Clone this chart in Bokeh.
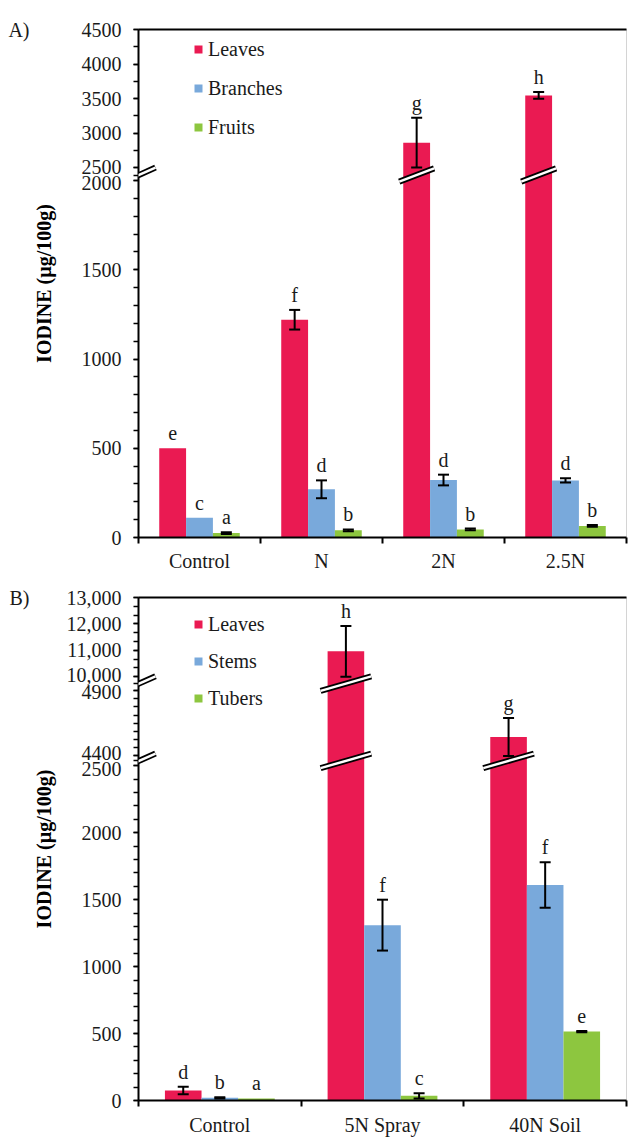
from bokeh.plotting import figure
from bokeh.models import (ColumnDataSource, Range1d, FixedTicker, Whisker, TeeHead,
                          Legend, LegendItem, Arrow, LinearAxis, AllLabels)
from bokeh.layouts import column
from bokeh.embed import file_html
from bokeh.resources import INLINE
from bokeh.core.properties import value

# ---------------- data: panel A ----------------
a_groups = ["Control", "N", "2N", "2.5N"]
a_series = ["Leaves", "Branches", "Fruits"]
a_leaves = [500, 1220, 2860, 3545]
a_leaves_err = [0, 55, 360, 50]
a_branches = [110, 270, 322, 320]
a_branches_err = [0, 50, 30, 12]
a_fruits = [25, 40, 45, 65]
a_fruits_err = [5, 5, 5, 5]
a_leaves_sig = ["e", "f", "g", "h"]
a_branches_sig = ["c", "d", "d", "d"]
a_fruits_sig = ["a", "b", "b", "b"]
a_yticks = [0, 500, 1000, 1500, 2000, 2500, 3000, 3500, 4000, 4500]

# ---------------- data: panel B ----------------
b_groups = ["Control", "5N Spray", "40N Soil"]
b_series = ["Leaves", "Stems", "Tubers"]
b_leaves = [75, 10960, 4545]
b_leaves_err = [28, 960, 145]
b_stems = [20, 1310, 1610]
b_stems_err = [5, 190, 170]
b_tubers = [15, 35, 515]
b_tubers_err = [0, 20, 5]
b_leaves_sig = ["d", "h", "g"]
b_stems_sig = ["b", "f", "f"]
b_tubers_sig = ["a", "c", "e"]
b_yticks = [0, 500, 1000, 1500, 2000, 2500, 4400, 4900, 10000, 11000, 12000, 13000]

COLORS = ["#EA1A52", "#79A9DB", "#8DC63F"]
FONT = "Liberation Serif"
TXT = "#1a1a1a"
FRAME_H = 508
FRAME_W = 488


def make_mapper(segs):
    def f(v):
        for lo, hi, d0, d1 in segs:
            if v <= hi:
                if v < lo:
                    return d0
                return d0 + (v - lo) / (hi - lo) * (d1 - d0)
        return segs[-1][3]
    return f


def fmt(v):
    return f"{v:,}" if v >= 10000 else str(v)


def build_panel(groups, series, vals, errs, sigs, yticks, segs, minor_steps, breaks,
                panel_text, height, top_border, bottom_border, bar_w,
                legend_loc, legend_spacing, axis_label_standoff, x_label_standoff,
                overhang, slope):
    n = len(groups)
    cat_px = FRAME_W / n
    fmap = make_mapper(segs)
    p = figure(width=628, height=height, x_range=Range1d(0, n), y_range=Range1d(0, FRAME_H),
               output_backend="svg", toolbar_location=None,
               x_axis_location=None, y_axis_location=None,
               min_border_left=138, min_border_right=2,
               min_border_top=top_border, min_border_bottom=bottom_border)
    p.outline_line_color = "#d4d4d4"
    p.background_fill_color = "white"
    p.border_fill_color = "white"
    p.grid.grid_line_color = None

    # ---- y axis with broken scale ----
    major, minor, overrides = [], [], {}
    for v in yticks:
        d = round(fmap(v), 3)
        major.append(d)
        overrides[d] = fmt(v)
    for (s_lo, s_hi), b in zip(zip(segs[:-1], segs[1:]), breaks):
        v_low, v_high = s_lo[1], s_hi[0]
        overrides[round(fmap(v_low), 3)] = ""
        overrides[round(fmap(v_high), 3)] = ""
        major.append(b)
        overrides[b] = fmt(v_high) + "\n" + fmt(v_low)
    for (lo, hi, d0, d1), step in zip(segs, minor_steps):
        k = 0
        while lo + k * step <= hi + 1e-9:
            minor.append(round(fmap(lo + k * step), 3))
            k += 1
    yax = LinearAxis(ticker=FixedTicker(ticks=sorted(major), minor_ticks=sorted(minor)),
                     major_label_overrides=overrides, major_label_policy=AllLabels(),
                     axis_label="IODINE (µg/100g)",
                     axis_label_text_font=FONT, axis_label_text_font_size="20px",
                     axis_label_text_font_style="bold", axis_label_text_color="black",
                     axis_label_standoff=axis_label_standoff,
                     major_label_text_font=FONT, major_label_text_font_size="20px",
                     major_label_text_color=TXT, major_label_standoff=12,
                     major_label_text_line_height=0.75,
                     axis_line_width=2, axis_line_color="black",
                     major_tick_out=5, major_tick_in=0, minor_tick_out=5, minor_tick_in=0,
                     major_tick_line_width=1.5, minor_tick_line_width=1.5,
                     major_tick_line_color="black", minor_tick_line_color="black")
    p.add_layout(yax, "left")

    # panel tag ("A)" / "B)") as an outer, line-less axis at the frame top
    tag = LinearAxis(ticker=FixedTicker(ticks=[FRAME_H]),
                     major_label_overrides={FRAME_H: panel_text},
                     major_label_text_font=FONT, major_label_text_font_size="20px",
                     major_label_text_color=TXT, major_label_standoff=0,
                     axis_line_color=None, major_tick_line_color=None,
                     minor_tick_line_color=None, major_tick_out=0, major_tick_in=0)
    p.add_layout(tag, "left")

    # ---- x axis: ticks between groups, labels at centres ----
    xax = LinearAxis(ticker=FixedTicker(ticks=[i + 0.5 for i in range(n)],
                                        minor_ticks=list(range(n + 1))),
                     major_label_overrides={i + 0.5: g for i, g in enumerate(groups)},
                     major_label_text_font=FONT, major_label_text_font_size="20px",
                     major_label_text_color=TXT, major_label_standoff=x_label_standoff,
                     axis_line_width=2, axis_line_color="black",
                     major_tick_out=0, major_tick_in=0, major_tick_line_color=None,
                     minor_tick_out=6, minor_tick_in=0, minor_tick_line_width=2,
                     minor_tick_line_color="black")
    p.add_layout(xax, "below")

    top = LinearAxis(ticker=FixedTicker(ticks=[]), axis_line_width=2, axis_line_color="black",
                     major_tick_line_color=None, minor_tick_line_color=None,
                     major_label_text_font_size="0px", major_label_standoff=0)
    p.add_layout(top, "above")

    # ---- bars ----
    offsets = [-bar_w, 0.0, bar_w]
    legend_items = []
    bx0, by0, bx1, by1 = [], [], [], []
    half = (bar_w * cat_px / 2 + overhang) / cat_px
    rise = slope * (bar_w * cat_px / 2 + overhang)
    for j, s in enumerate(series):
        xs = [i + 0.5 + offsets[j] for i in range(n)]
        src = ColumnDataSource(dict(x=xs, top=[fmap(v) for v in vals[j]]))
        r = p.vbar(x="x", top="top", bottom=0, width=bar_w, source=src,
                   fill_color=COLORS[j], line_color=None)
        legend_items.append(LegendItem(label=s, renderers=[r]))
        for k, b in enumerate(breaks):
            for x, v in zip(xs, vals[j]):
                if v > segs[k][1]:
                    bx0.append(x - half); bx1.append(x + half)
                    by0.append(b - rise); by1.append(b + rise)
    bsrc = ColumnDataSource(dict(x0=bx0, y0=by0, x1=bx1, y1=by1))
    p.segment(x0="x0", y0="y0", x1="x1", y1="y1", source=bsrc, line_color="black", line_width=6)
    p.segment(x0="x0", y0="y0", x1="x1", y1="y1", source=bsrc, line_color="white", line_width=2.5)

    # ---- error bars and letters ----
    for j in range(len(series)):
        xs = [i + 0.5 + offsets[j] for i in range(n)]
        wx = [x for x, e in zip(xs, errs[j]) if e > 0]
        wu = [fmap(v + e) for v, e in zip(vals[j], errs[j]) if e > 0]
        wl = [fmap(v - e) for v, e in zip(vals[j], errs[j]) if e > 0]
        wsrc = ColumnDataSource(dict(x=wx, upper=wu, lower=wl))
        w = Whisker(source=wsrc, base="x", upper="upper", lower="lower", dimension="height",
                    line_color="black", line_width=2, level="annotation",
                    upper_head=TeeHead(size=11, line_color="black", line_width=2),
                    lower_head=TeeHead(size=11, line_color="black", line_width=2))
        p.add_layout(w)
        lsrc = ColumnDataSource(dict(x=xs, y=[fmap(v + e) for v, e in zip(vals[j], errs[j])],
                                     t=sigs[j]))
        p.text(x="x", y="y", text="t", source=lsrc, text_align="center",
               text_baseline="alphabetic", y_offset=-15, text_font=value(FONT),
               text_font_size="20px", text_color=TXT)

    # ---- axis break marks ----
    ax0, ax1 = -16 / cat_px, 17 / cat_px
    arise = 0.45 * 16.5
    for b in breaks:
        for c, lw in (("black", 6), ("white", 2.5)):
            p.add_layout(Arrow(end=None, x_start=ax0, y_start=b - arise, x_end=ax1,
                               y_end=b + arise, line_color=c, line_width=lw))

    legend = Legend(items=legend_items, location=legend_loc, orientation="vertical",
                    glyph_width=10, glyph_height=10, label_standoff=5,
                    spacing=legend_spacing, padding=0, margin=0, label_height=23,
                    border_line_color=None, background_fill_alpha=0,
                    label_text_font=FONT, label_text_font_size="20px", label_text_color=TXT)
    p.add_layout(legend)
    return p


pA = build_panel(a_groups, a_series,
                 [a_leaves, a_branches, a_fruits],
                 [a_leaves_err, a_branches_err, a_fruits_err],
                 [a_leaves_sig, a_branches_sig, a_fruits_sig],
                 a_yticks,
                 segs=[(0, 2000, 0.0, 357.0), (2500, 4500, 370.0, 508.0)],
                 minor_steps=[100, 250], breaks=[362.5],
                 panel_text="A)", height=580,
                 top_border=29, bottom_border=43, bar_w=0.22,
                 legend_loc=(55, 398.5), legend_spacing=16,
                 axis_label_standoff=24, x_label_standoff=6,
                 overhang=4, slope=0.38)

pB = build_panel(b_groups, b_series,
                 [b_leaves, b_stems, b_tubers],
                 [b_leaves_err, b_stems_err, b_tubers_err],
                 [b_leaves_sig, b_stems_sig, b_tubers_sig],
                 b_yticks,
                 segs=[(0, 2500, 0.0, 338.0), (4400, 4900, 348.0, 414.0),
                       (10000, 13000, 428.0, 508.0)],
                 minor_steps=[100, 62.5, 1000 / 3], breaks=[343.0, 421.0],
                 panel_text="B)", height=558,
                 top_border=17, bottom_border=33, bar_w=0.225,
                 legend_loc=(55, 390.5), legend_spacing=14,
                 axis_label_standoff=9, x_label_standoff=7,
                 overhang=7, slope=0.29)

layout = column(pA, pB, spacing=0)
open("out.html", "w").write(file_html(layout, INLINE))
